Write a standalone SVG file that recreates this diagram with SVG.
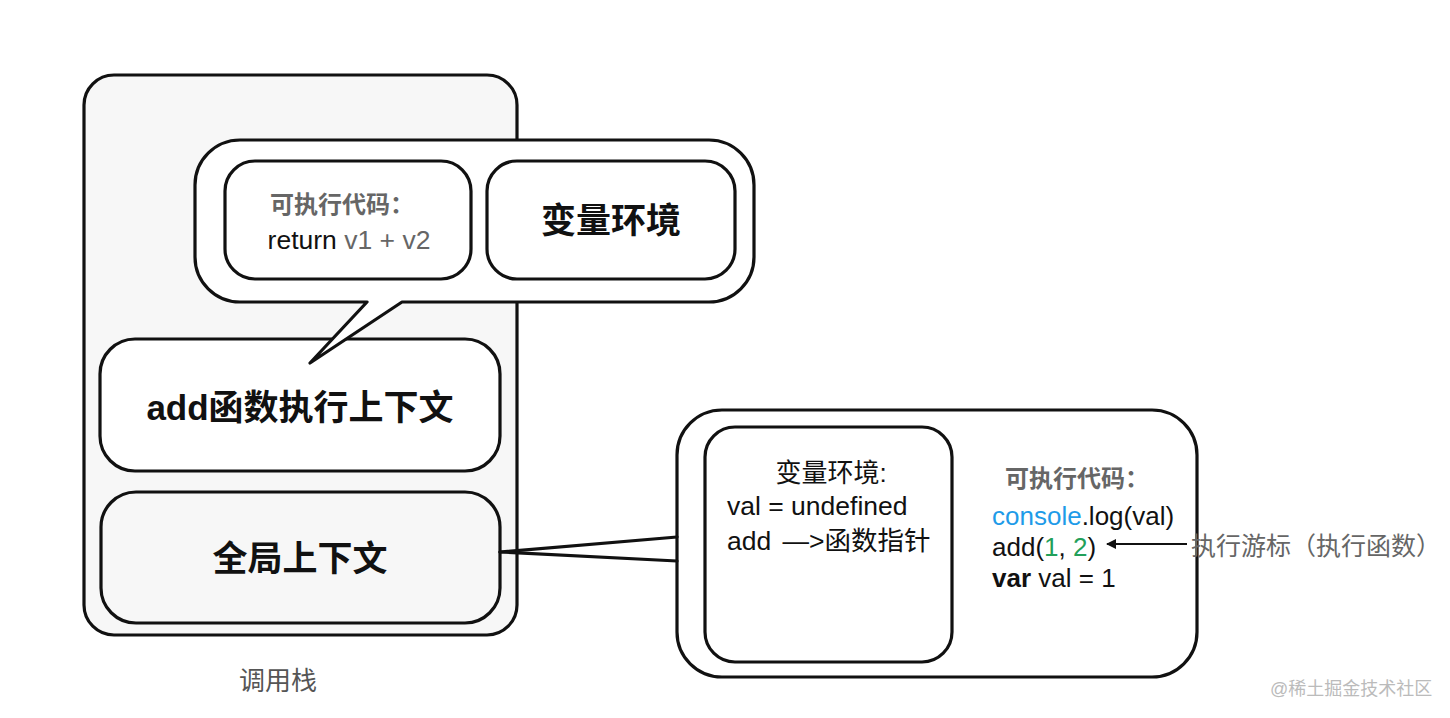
<svg xmlns="http://www.w3.org/2000/svg" width="1450" height="718" viewBox="0 0 1450 718">
<defs>
<style>
.box{stroke:#111;stroke-width:3.2;stroke-linejoin:round}
.w{fill:#fff}
.g{fill:#f7f7f7}
.ln{stroke:#111;stroke-width:3.2;fill:none;stroke-linecap:round}
text{font-family:"Liberation Sans","Noto Sans CJK SC",sans-serif;fill:#111}
.b{font-weight:bold}
.gray{fill:#666}
</style>
<marker id="ah" viewBox="0 0 10 10" refX="9" refY="5" markerWidth="11" markerHeight="10" markerUnits="userSpaceOnUse" orient="auto">
<path d="M0,0 L10,5 L0,10 z" fill="#111"/>
</marker>
</defs>
<rect width="1450" height="718" fill="#fff"/>

<g id="call-stack">
<rect class="box g" x="84" y="75" width="433" height="560" rx="30"/>
<text x="278" y="690" font-size="26" style="fill:#555" text-anchor="middle">调用栈</text>
</g>

<g id="add-context">
<rect class="box w" x="100" y="339" width="400" height="132" rx="35"/>
<text class="b" x="300" y="420" font-size="35" text-anchor="middle">add函数执行上下文</text>
</g>

<g id="bubble">
<path class="box w" d="M240 140 H709 A45 45 0 0 1 754 185 V257 A45 45 0 0 1 709 302 H402 L310 363 L367 302 H240 A45 45 0 0 1 195 257 V185 A45 45 0 0 1 240 140 Z"/>
</g>

<g id="add-code">
<rect class="box w" x="225" y="161" width="246" height="118" rx="30"/>
<text class="b gray" x="270" y="213" font-size="24">可执行代码：</text>
<text x="349" y="249" font-size="26.5" text-anchor="middle">return<tspan class="gray"> v1 + v2</tspan></text>
</g>

<g id="add-env">
<rect class="box w" x="487" y="161" width="248" height="118" rx="30"/>
<text class="b" x="611" y="233" font-size="35" text-anchor="middle">变量环境</text>
</g>

<g id="global-context">
<rect class="box g" x="101" y="492" width="399" height="131" rx="35"/>
<text class="b" x="300" y="571" font-size="35" text-anchor="middle">全局上下文</text>
</g>

<g id="global-detail">
<rect class="box w" x="677" y="410" width="520" height="267" rx="45"/>
</g>

<g id="global-env">
<rect class="box w" x="705" y="427" width="247" height="235" rx="30"/>
<text x="831" y="482" font-size="26" text-anchor="middle">变量环境:</text>
<text x="727" y="515" font-size="26.5">val = undefined</text>
<text x="727" y="550" font-size="26.5">add <tspan dx="4">—&gt;函数指针</tspan></text>
</g>

<g id="global-code">
<text class="b gray" x="1005" y="487" font-size="24">可执行代码：</text>
<text x="992" y="525" font-size="26"><tspan style="fill:#1e9be8">console</tspan>.log(val)</text>
<text x="992" y="556" font-size="26">add(<tspan style="fill:#22a05a">1</tspan>, <tspan style="fill:#22a05a">2</tspan>)</text>
<text x="992" y="587" font-size="26"><tspan class="b">var</tspan> val = 1</text>
</g>

<g id="connectors">
<path class="ln" d="M500 552 L677 537"/>
<path class="ln" d="M500 552 L677 561"/>
<path d="M1187 544 L1107 544" stroke="#111" stroke-width="2" fill="none" marker-end="url(#ah)"/>
</g>

<g id="cursor-label">
<text class="gray" x="1191" y="555" font-size="25">执行游标（执行函数）</text>
</g>

<text x="1270" y="695" font-size="18" style="fill:#bbb">@稀土掘金技术社区</text>
</svg>
